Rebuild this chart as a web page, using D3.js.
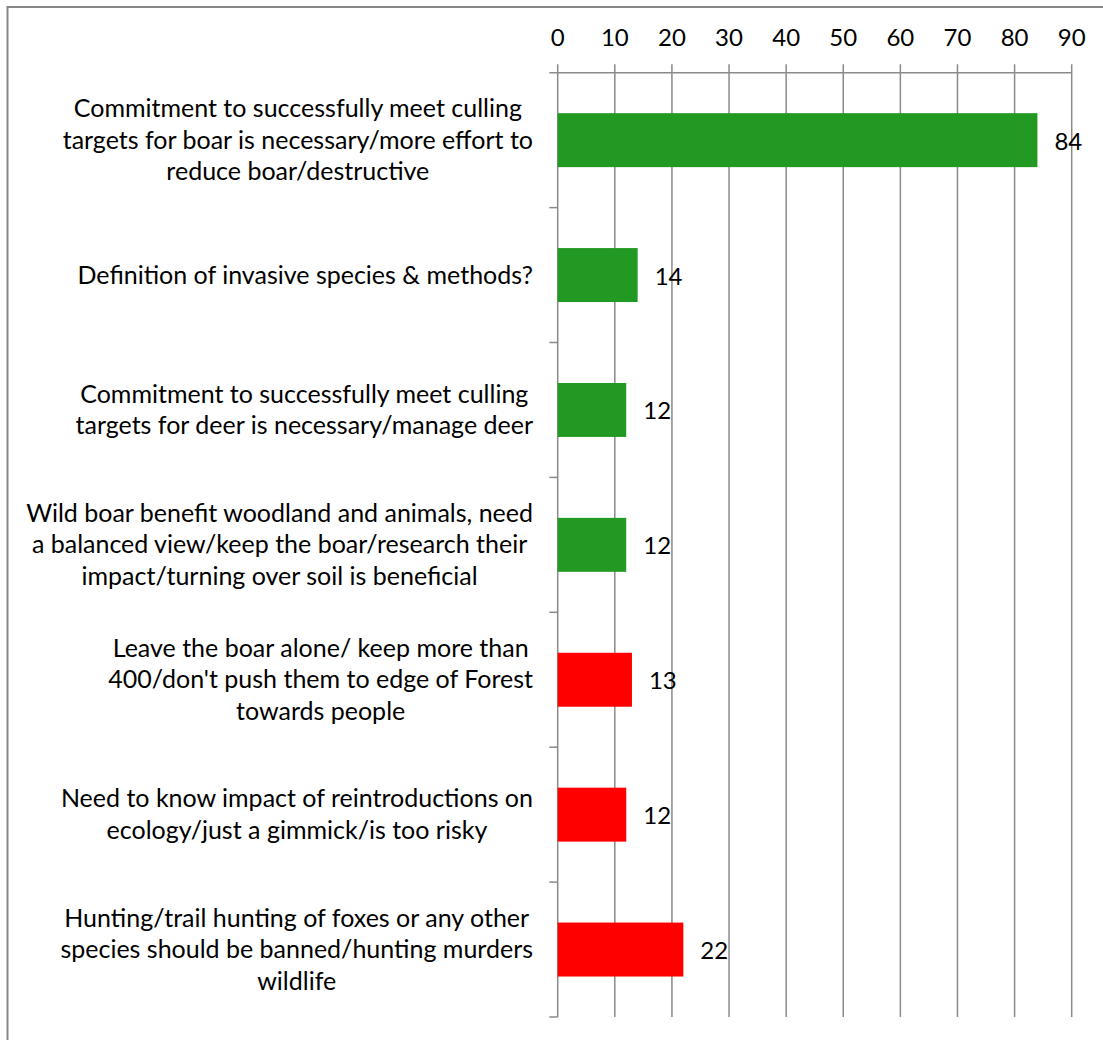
<!DOCTYPE html>
<html>
<head>
<meta charset="utf-8">
<script src="https://cdn.jsdelivr.net/npm/d3@7"></script>
<style>
  html, body { margin: 0; padding: 0; background: #fff; }
  svg { display: block; }
</style>
</head>
<body>
<svg id="chart" width="1103" height="1040"></svg>
<script>
const categories = [
  "Commitment to successfully meet culling\ntargets for boar is necessary/more effort to\nreduce boar/destructive",
  "Definition of invasive species & methods?",
  "Commitment to successfully meet culling\ntargets for deer is necessary/manage deer",
  "Wild boar benefit woodland and animals, need\na balanced view/keep the boar/research their\nimpact/turning over soil is beneficial",
  "Leave the boar alone/ keep more than\n400/don't push them to edge of Forest\ntowards people",
  "Need to know impact of reintroductions on\necology/just a gimmick/is too risky",
  "Hunting/trail hunting of foxes or any other\nspecies should be banned/hunting murders\nwildlife"
];
const values = [84, 14, 12, 12, 13, 12, 22];
const groups = ["support", "support", "support", "support", "oppose", "oppose", "oppose"];
const tickValues = [0, 10, 20, 30, 40, 50, 60, 70, 80, 90];

const colors = { support: "#229922", oppose: "#ff0000" };
const FONT = "Lato, 'Open Sans', sans-serif";
const svg = d3.select("#chart");

// frame
svg.append("rect").attr("x", 7.5).attr("y", 7).attr("width", 1120).attr("height", 1060)
  .attr("fill", "none").attr("stroke", "#878787").attr("stroke-width", 2);

const x = d3.scaleLinear().domain([0, 90]).range([557.7, 1071.7]);
const y = d3.scaleBand().domain(categories).range([72.7, 1017])
  .paddingInner(0.6).paddingOuter(0.3);
const step = y.step();
const gridColor = "#8a8a8a";

// vertical gridlines + top ticks
svg.append("g").selectAll("line").data(tickValues).join("line")
  .attr("x1", d => x(d)).attr("x2", d => x(d))
  .attr("y1", 64.3).attr("y2", 1017)
  .attr("stroke", gridColor).attr("stroke-width", 1.5);

// top axis line
svg.append("line").attr("x1", 549.3).attr("x2", x(90)).attr("y1", 72.7).attr("y2", 72.7)
  .attr("stroke", gridColor).attr("stroke-width", 1.5);

// left category ticks
const sepYs = categories.map(c => y(c) - step * 0.3).concat([1017]);
svg.append("g").selectAll("line").data(sepYs.slice(1)).join("line")
  .attr("x1", 549.3).attr("x2", x(0)).attr("y1", d => d).attr("y2", d => d)
  .attr("stroke", gridColor).attr("stroke-width", 1.5);

// top tick labels
svg.append("g").selectAll("text").data(tickValues).join("text")
  .attr("x", d => x(d)).attr("y", 46)
  .attr("text-anchor", "middle")
  .attr("font-family", FONT).attr("font-size", 24).attr("fill", "#000")
  .text(d => d);

// bars
svg.append("g").selectAll("rect").data(values).join("rect")
  .attr("x", x(0)).attr("y", (d, i) => y(categories[i]))
  .attr("width", d => x(d) - x(0)).attr("height", y.bandwidth())
  .attr("fill", (d, i) => colors[groups[i]]);

// value labels
svg.append("g").selectAll("text").data(values).join("text")
  .attr("x", d => x(d) + 17).attr("y", (d, i) => y(categories[i]) + y.bandwidth() / 2 + 9.5)
  .attr("font-family", FONT).attr("font-size", 24).attr("fill", "#000")
  .text(d => d);

// category labels
const labelFont = 25;
const lineH = 31.5;
const rightEdge = 533;
const lg = svg.append("g");
categories.forEach((c, i) => {
  const lines = c.split("\n");
  const cy = y(c) + y.bandwidth() / 2;
  const tmp = lines.map(l => lg.append("text").attr("font-family", FONT)
    .attr("font-size", labelFont).text(l));
  const widths = tmp.map(t => t.node().getComputedTextLength());
  tmp.forEach(t => t.remove());
  const maxW = d3.max(widths);
  const cx = rightEdge - maxW / 2;
  lines.forEach((l, j) => {
    lg.append("text")
      .attr("x", cx)
      .attr("y", cy + 8.5 + (j - (lines.length - 1) / 2) * lineH)
      .attr("text-anchor", "middle")
      .attr("font-family", FONT).attr("font-size", labelFont).attr("fill", "#000")
      .text(l);
  });
});
</script>
</body>
</html>
